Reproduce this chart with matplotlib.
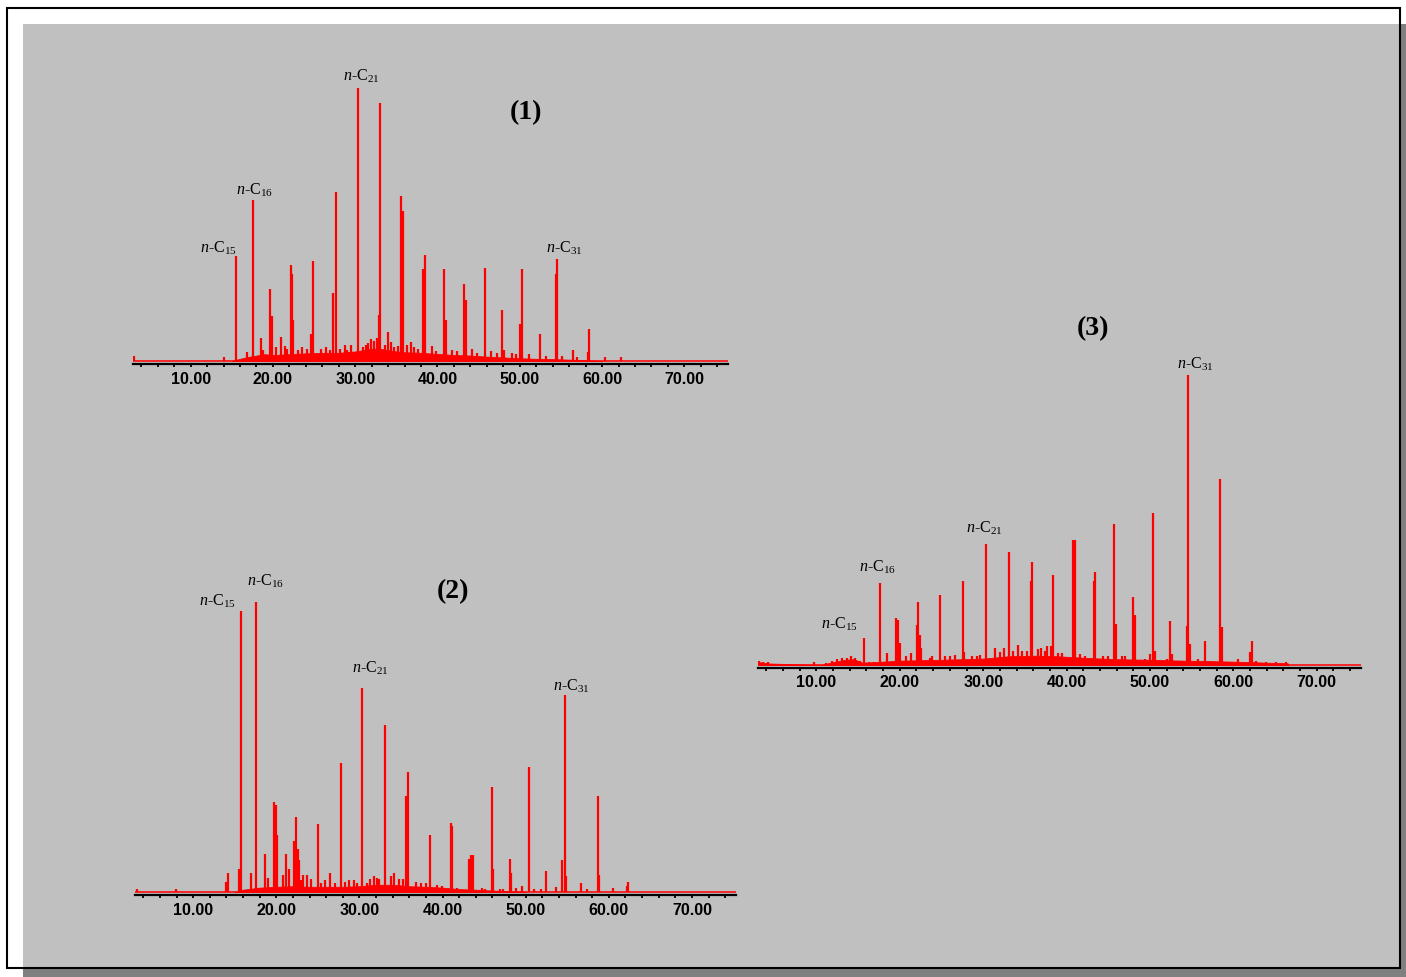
import matplotlib
matplotlib.use('Agg')
import matplotlib.pyplot as plt
from matplotlib.patches import Rectangle
from matplotlib.ticker import MultipleLocator, FormatStrFormatter

W, H = 1406, 978

plt.rcParams['mathtext.fontset'] = 'custom'
plt.rcParams['mathtext.rm'] = 'Liberation Serif'
plt.rcParams['mathtext.it'] = 'Liberation Serif:italic'

# ---------------------------
# TIC data, retention time (min) / relative abundance (%)
# ---------------------------
p1_peak_t = [3.10, 14.07, 15.53, 16.86, 17.55, 18.52, 18.85, 19.61, 19.85, 20.40,
             21.03, 21.43, 21.75, 22.16, 22.32, 22.48, 23.00, 23.53, 24.10, 24.58,
             24.82, 25.80, 26.40, 26.90, 27.33, 27.61, 28.20, 28.70, 29.00, 29.43,
             30.36, 30.90, 31.30, 31.60, 31.97, 32.30, 32.60, 32.86, 33.03, 33.60,
             34.00, 34.40, 34.76, 35.20, 35.61, 35.85, 36.30, 36.80, 37.20, 37.60,
             38.24, 38.44, 39.30, 39.80, 40.82, 40.98, 41.80, 42.40, 43.25, 43.49,
             44.20, 44.80, 45.76, 46.50, 47.20, 47.89, 48.10, 49.00, 49.60, 50.04,
             50.24, 51.10, 52.42, 53.20, 54.36, 54.56, 55.10, 56.46, 56.90, 58.28,
             58.44, 60.30, 62.24]
p1_peak_h = [2.0, 1.5, 38.3, 3.4, 59.0, 8.4, 4.0, 26.4, 16.6, 5.0,
             8.8, 5.5, 4.5, 35.0, 32.0, 15.0, 4.0, 5.0, 4.5, 10.0,
             36.6, 4.5, 5.0, 4.0, 25.0, 62.0, 4.5, 5.8, 4.0, 5.8,
             100.0, 5.0, 6.0, 6.5, 8.0, 7.5, 8.5, 17.0, 94.5, 6.0,
             10.5, 7.0, 5.0, 5.5, 60.3, 55.0, 6.0, 7.0, 5.0, 4.5,
             33.7, 38.7, 5.5, 3.5, 33.7, 15.0, 4.0, 3.5, 28.2, 22.3,
             4.4, 3.0, 34.0, 3.5, 3.0, 18.7, 4.0, 3.0, 2.5, 13.5,
             33.7, 2.5, 9.9, 2.0, 31.9, 37.4, 2.0, 4.1, 1.5, 3.2,
             11.7, 1.3, 1.3]
p1_hump_t = [15.0, 16.0, 17.0, 18.0, 19.0, 20.0, 22.0, 24.0, 26.0, 28.0, 30.0,
             31.0, 32.0, 33.0, 34.0, 35.0, 36.0, 38.0, 40.0, 42.0, 44.0, 46.0,
             48.0, 50.0, 52.0, 54.0, 56.0, 58.0, 60.0]
p1_hump_h = [0.0, 0.8, 1.5, 2.0, 2.5, 2.2, 2.5, 2.8, 3.0, 3.0, 3.5,
             4.0, 4.5, 4.5, 4.0, 3.5, 3.2, 3.0, 2.6, 2.2, 2.0, 1.6,
             1.3, 1.0, 0.8, 0.7, 0.5, 0.3, 0.0]
p1_label_t = [15.53, 17.55, 30.36, 54.56]

p2_peak_t = [3.20, 7.90, 13.95, 14.20, 15.52, 15.76, 16.96, 17.56, 18.64, 19.00,
             19.72, 19.96, 20.12, 20.80, 21.16, 21.52, 22.12, 22.40, 22.56, 22.76,
             23.00, 23.25, 23.72, 24.20, 25.04, 25.40, 25.90, 26.48, 27.00, 27.77,
             28.30, 28.70, 29.30, 29.70, 30.36, 30.90, 31.30, 31.80, 32.10, 32.40,
             33.12, 33.80, 34.17, 34.80, 35.20, 35.64, 35.88, 36.80, 37.40, 38.00,
             38.45, 39.30, 39.90, 41.01, 41.16, 41.70, 43.20, 43.41, 43.61, 44.70,
             45.10, 45.89, 46.05, 46.90, 47.30, 48.06, 48.21, 48.80, 49.50, 50.34,
             51.00, 51.90, 52.50, 53.70, 54.42, 54.69, 54.85, 56.61, 57.40, 58.65,
             58.81, 60.54, 62.14, 62.32]
p2_peak_h = [1.0, 1.0, 3.4, 6.6, 8.0, 97.0, 6.5, 100.0, 13.0, 5.0,
             31.0, 30.0, 19.6, 6.0, 13.0, 8.0, 17.6, 26.0, 15.0, 11.0,
             4.0, 6.0, 6.0, 4.5, 23.4, 3.0, 4.0, 6.5, 3.0, 44.5,
             3.5, 4.0, 4.0, 3.0, 70.3, 3.0, 4.5, 5.5, 5.0, 4.5,
             57.6, 5.5, 6.5, 4.5, 4.5, 33.0, 41.4, 3.5, 3.0, 3.0,
             19.7, 2.5, 2.0, 23.8, 22.7, 1.5, 11.5, 12.8, 12.8, 1.5,
             1.0, 36.2, 8.0, 1.0, 1.0, 11.4, 6.5, 1.5, 2.0, 43.0,
             1.0, 1.0, 7.2, 1.8, 11.0, 68.0, 5.5, 3.0, 1.0, 33.0,
             6.0, 1.5, 2.0, 3.5]
p2_hump_t = [15.0, 16.0, 18.0, 20.0, 22.0, 24.0, 26.0, 28.0, 30.0, 32.0,
             34.0, 36.0, 38.0, 40.0, 42.0, 44.0, 46.0, 48.0, 50.0]
p2_hump_h = [0.0, 0.8, 1.5, 1.8, 2.0, 1.8, 1.8, 1.8, 2.0, 2.5,
             2.5, 2.0, 1.8, 1.5, 1.0, 0.8, 0.5, 0.3, 0.0]
p2_label_t = [15.76, 17.56, 30.36, 54.69]

p3_peak_t = [3.10, 3.60, 4.20, 9.70, 11.10, 11.90, 12.50, 13.10, 13.70, 14.10,
             14.60, 15.20, 15.74, 16.30, 16.90, 17.62, 18.50, 19.54, 19.75, 19.99,
             20.70, 21.40, 22.03, 22.18, 22.39, 22.58, 23.60, 23.90, 24.79, 25.40,
             26.00, 26.60, 27.55, 27.67, 28.60, 29.30, 29.60, 30.35, 31.43, 32.00,
             32.50, 33.11, 33.60, 34.19, 34.70, 35.20, 35.75, 35.91, 36.60, 36.90,
             37.40, 37.70, 38.16, 38.36, 39.00, 39.40, 40.71, 40.88, 41.03, 41.60,
             42.20, 43.23, 43.40, 44.40, 45.00, 45.71, 45.95, 46.60, 47.00, 47.96,
             48.24, 49.40, 50.00, 50.31, 50.55, 52.00, 52.44, 52.60, 53.80, 54.44,
             54.60, 54.84, 55.80, 56.60, 58.44, 58.64, 60.50, 62.04, 62.24, 62.70,
             63.90, 65.10, 66.30]
p3_peak_h = [1.5, 1.0, 1.0, 1.0, 0.8, 1.5, 2.0, 2.5, 2.5, 3.0,
             2.5, 1.5, 9.3, 1.0, 1.0, 28.3, 4.1, 16.2, 15.5, 7.5,
             3.0, 4.0, 13.8, 21.7, 10.3, 6.0, 2.5, 3.0, 24.1, 3.0,
             3.0, 3.5, 29.0, 4.5, 3.0, 3.0, 3.5, 41.7, 6.0, 4.5,
             6.0, 39.0, 5.0, 7.0, 5.0, 5.0, 29.0, 35.5, 5.5, 6.0,
             5.0, 6.6, 6.4, 31.0, 4.0, 4.0, 43.0, 43.0, 43.0, 3.7,
             3.0, 28.9, 32.0, 3.0, 3.0, 48.6, 14.0, 3.0, 3.0, 23.3,
             17.2, 2.0, 3.7, 52.4, 5.0, 2.0, 15.2, 3.7, 1.5, 13.3,
             100.0, 7.2, 2.0, 8.3, 64.0, 13.0, 2.0, 4.5, 8.3, 1.5,
             1.0, 1.0, 1.0]
p3_hump_t = [3.0, 4.5, 10.5, 12.0, 13.5, 14.5, 15.5, 17.0, 20.0, 25.0, 30.0,
             33.0, 36.0, 39.0, 42.0, 46.0, 50.0, 54.0, 58.0, 62.0, 64.0, 66.5, 66.6]
p3_hump_h = [1.0, 0.5, 0.0, 1.0, 1.8, 2.0, 0.8, 1.0, 1.5, 1.8, 2.2,
             3.0, 3.2, 3.0, 2.5, 2.0, 1.8, 1.5, 1.3, 1.0, 0.8, 0.6, 0.0]
p3_label_t = [15.74, 17.62, 30.35, 54.60]

alkane_labels = [r'$\mathit{n}$-C$_\mathrm{15}$', r'$\mathit{n}$-C$_\mathrm{16}$',
                 r'$\mathit{n}$-C$_\mathrm{21}$', r'$\mathit{n}$-C$_\mathrm{31}$']
panel_titles = ['(1)', '(2)', '(3)']


def fx(x):
    return x / W


def fy(y):
    return 1 - y / H


# ---------------------------
# One chromatogram panel
# box = (left, right, spine_y, zero_y, top_y) in pixels
# ---------------------------
def draw_panel(fig, box, peak_t, peak_h, hump_t, hump_h, label_t, offsets,
               title, title_xy):
    left, right, spine, zero, top = box
    ax = fig.add_axes([fx(left), fy(spine), fx(right) - fx(left), (spine - top) / H])
    ax.patch.set_alpha(0)
    lo = -100 * (spine - zero) / (zero - top)
    ax.set_xlim(3.0, 75.3)
    ax.set_ylim(lo, 100)

    ax.axhline(0, color='#ff0000', lw=1.1, zorder=2)
    ax.fill_between(hump_t, 0, hump_h, color='#ff0000', lw=0.6, zorder=2)
    ax.vlines(peak_t, 0, peak_h, color='#ff0000', lw=1.6, zorder=3)

    for name, t, (dx, dy) in zip(alkane_labels, label_t, offsets):
        h = peak_h[peak_t.index(t)]
        ax.annotate(name, xy=(t, h), xytext=(dx, dy), textcoords='offset pixels',
                    ha='center', va='bottom', fontsize=11.5,
                    family='Liberation Serif', annotation_clip=False)

    for s in ('top', 'left', 'right'):
        ax.spines[s].set_visible(False)
    ax.spines['bottom'].set_linewidth(1.6)
    ax.set_yticks([])
    ax.xaxis.set_major_locator(MultipleLocator(10))
    ax.xaxis.set_minor_locator(MultipleLocator(2))
    ax.xaxis.set_major_formatter(FormatStrFormatter('%.2f'))
    ax.tick_params(axis='x', which='both', direction='out', length=2.5, width=1.3,
                   pad=2.5, labelsize=11.5)
    for lab in ax.get_xticklabels():
        lab.set_family('Liberation Sans')
        lab.set_fontweight('bold')

    fig.text(fx(title_xy[0]), fy(title_xy[1]), title, ha='center', va='center',
             fontsize=20, fontweight='bold', family='Liberation Serif')
    return ax


fig = plt.figure(figsize=(W / 100, H / 100), dpi=100, facecolor='white')

# page background, shadow and frame
fig.add_artist(Rectangle((fx(23), fy(978)), fx(1406) - fx(23), (978 - 25) / H,
                         transform=fig.transFigure, color='#c0c0c0', lw=0, zorder=-10))
fig.add_artist(Rectangle((fx(1401), fy(978)), fx(1406) - fx(1401), (978 - 25) / H,
                         transform=fig.transFigure, color='#808080', lw=0, zorder=-9))
fig.add_artist(Rectangle((fx(23), fy(978)), fx(1401) - fx(23), (978 - 970) / H,
                         transform=fig.transFigure, color='#808080', lw=0, zorder=-9))
fig.add_artist(Rectangle((fx(7.5), fy(969)), fx(1400) - fx(7.5), (969 - 8.5) / H,
                         transform=fig.transFigure, fill=False, ec='black', lw=1.5,
                         zorder=-8))

draw_panel(fig, (133, 728, 365, 362, 89), p1_peak_t, p1_peak_h, p1_hump_t, p1_hump_h,
           p1_label_t, [(-18, 0), (2, 2), (3, 4), (7, 3)],
           panel_titles[0], (526, 113))
draw_panel(fig, (135, 736, 896, 893, 603), p2_peak_t, p2_peak_h, p2_hump_t, p2_hump_h,
           p2_label_t, [(-24, 2), (9, 13), (8, 12), (7, 1)],
           panel_titles[1], (453, 592))
draw_panel(fig, (758, 1361, 668.5, 666, 376), p3_peak_t, p3_peak_h, p3_hump_t, p3_hump_h,
           p3_label_t, [(-25, 6), (-2, 8), (-2, 8), (7, 3)],
           panel_titles[2], (1093, 329))

fig.savefig('out.png', dpi=100, facecolor='white')
